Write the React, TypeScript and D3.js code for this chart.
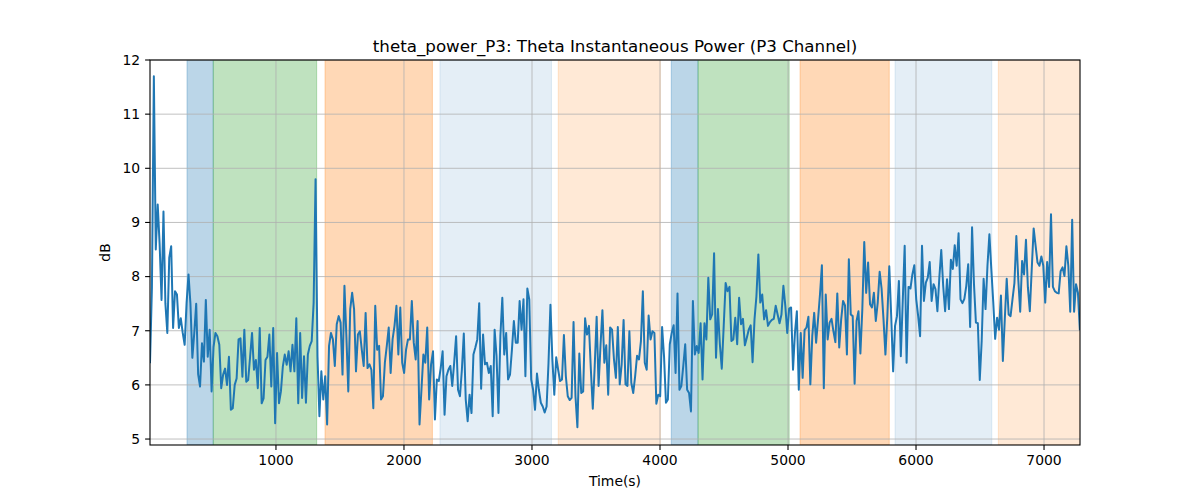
import React, { useMemo } from "react"
import * as d3 from "d3"

const TITLE = "theta_power_P3: Theta Instantaneous Power (P3 Channel)"
const X_LABEL = "Time(s)"
const Y_LABEL = "dB"

// sample times run evenly from T_FIRST to T_LAST
const T_FIRST = 16
const T_LAST = 7280
const X_DOMAIN: [number, number] = [16, 7281]
const Y_DOMAIN: [number, number] = [4.89, 12]
const X_TICKS = [1000, 2000, 3000, 4000, 5000, 6000, 7000]
const Y_TICKS = [5, 6, 7, 8, 9, 10, 11, 12]

// theta power (dB) in chunks
const powerA = [
  6.4, 7.8, 11.7, 8.5, 9.33, 8.6, 7.57, 9.2, 7.5, 6.96, 8.35, 8.56, 7.05, 7.73, 7.67, 7.05, 7.23, 6.96, 6.74, 7.51,
  8.04, 7.5, 6.5, 6.96, 7.5, 6.2, 5.97, 6.77, 6.43, 7.57, 6.52, 7.02, 5.88, 6.7, 6.96, 6.9, 6.74, 5.94, 6.19, 6.3,
  6.0, 6.52, 5.54, 5.57, 6.0, 6.12, 6.84, 6.86, 6.15, 7.02, 6.06, 6.09, 6.52, 6.96, 6.28, 6.46, 5.94, 7.05, 5.66, 5.75,
  6.46, 6.52, 6.93, 5.97, 7.05, 5.29, 6.59, 5.66, 5.88, 6.34, 6.56, 6.37, 6.62, 6.25, 6.74, 6.25, 7.23, 5.66,
]
const powerB = [
  6.96, 5.76, 6.53, 5.67, 6.56, 6.72, 6.81, 7.52, 9.8, 6.53, 5.42, 6.25, 5.73, 6.16, 5.27, 6.72, 6.96, 6.84, 6.35, 7.12,
  7.27, 7.15, 6.19, 7.83, 6.9, 5.88, 7.4, 7.7, 7.4, 6.25, 6.93, 6.99, 6.65, 6.35, 7.33, 6.31, 6.38, 6.28, 5.57, 7.46,
  6.65, 6.72, 5.73, 5.79, 6.41, 6.72, 7.06, 6.22, 6.84, 7.09, 7.46, 6.56, 7.43, 6.41, 6.22, 6.65, 6.84, 6.84, 7.55, 6.78,
  6.47, 7.18, 5.27, 5.91, 6.56, 6.41, 7.06, 5.73, 6.38, 6.62, 5.36, 6.1, 6.07, 6.31, 6.62, 5.45, 6.16, 6.28,
]
const powerC = [
  6.35, 5.98, 6.41, 6.9, 5.91, 5.79, 6.28, 6.95, 5.73, 5.33, 5.82, 5.48, 6.56, 6.69, 6.84, 7.51, 5.93, 6.93, 6.38, 6.41,
  6.22, 6.35, 5.42, 7.02, 6.53, 5.48, 6.9, 7.61, 6.56, 6.96, 6.1, 6.19, 6.65, 7.18, 6.78, 6.78, 7.55, 7.02, 7.58, 6.16,
  7.78, 7.58, 6.1, 5.91, 5.54, 6.21, 5.91, 5.67, 5.6, 5.49, 5.6, 6.41, 7.48, 6.47, 5.82, 6.51, 6.28, 6.07, 6.1, 6.92,
  6.16, 5.79, 5.72, 5.76, 7.16, 5.79, 5.22, 6.58, 5.85, 5.88, 7.23, 6.93, 7.09, 6.28, 5.56, 6.35, 7.26, 5.98,
]
const powerD = [
  6.72, 7.38, 6.41, 6.73, 5.82, 7.06, 7.02, 6.47, 6.13, 7.07, 6.01, 6.38, 7.2, 6.01, 5.98, 6.99, 6.04, 5.85, 6.16, 6.54,
  6.47, 6.81, 7.73, 6.41, 6.28, 7.28, 6.84, 6.99, 6.96, 5.65, 5.82, 5.79, 7.07, 6.53, 5.67, 5.73, 6.75, 6.96, 7.1, 6.22,
  7.69, 5.91, 5.98, 6.35, 6.75, 5.91, 5.85, 5.51, 7.55, 6.56, 6.72, 6.59, 7.14, 6.1, 7.14, 6.84, 7.98, 7.21, 7.3, 8.43,
  6.5, 7.4, 6.75, 6.3, 7.09, 7.88, 7.73, 7.81, 6.81, 6.84, 7.24, 6.75, 7.61, 7.12, 7.22, 6.73, 6.87, 7.02,
]
const powerE = [
  7.1, 6.42, 7.21, 7.64, 8.41, 7.52, 7.67, 7.21, 7.38, 7.09, 7.16, 7.2, 7.22, 7.46, 7.3, 7.14, 7.3, 7.83, 7.46, 6.96,
  7.41, 7.43, 6.28, 6.96, 7.36, 5.91, 6.96, 6.13, 7.01, 7.06, 7.26, 6.01, 6.9, 7.33, 6.78, 7.21, 7.67, 8.21, 5.94, 7.67,
  6.84, 7.15, 7.22, 6.99, 6.79, 7.69, 6.69, 7.2, 7.55, 7.47, 6.56, 8.32, 7.3, 7.27, 6.02, 7.18, 7.36, 6.58, 7.4, 8.64,
  7.7, 8.26, 7.49, 7.43, 7.7, 7.18, 7.52, 8.09, 7.78, 7.21, 6.56, 7.27, 8.19, 7.27, 6.25, 7.09, 7.27, 7.92,
]
const powerF = [
  6.53, 7.55, 8.57, 6.41, 7.81, 7.78, 8.04, 8.21, 7.58, 7.27, 6.9, 8.57, 7.55, 7.89, 7.98, 8.27, 7.55, 7.86, 7.77, 7.36,
  7.98, 8.49, 7.83, 7.36, 7.95, 7.4, 8.31, 8.14, 8.58, 8.2, 8.8, 7.58, 7.51, 7.59, 7.83, 8.23, 7.07, 8.91, 7.86, 7.15,
  7.14, 6.09, 6.81, 7.96, 7.4, 8.2, 8.78, 8.14, 7.53, 6.85, 7.24, 7.02, 7.65, 6.44, 7.21, 7.96, 7.3, 7.27, 7.58, 7.88,
  8.75, 7.95, 7.35, 8.29, 8.04, 8.68, 7.8, 7.36, 8.14, 8.89, 8.57, 8.26, 8.2, 8.37, 8.2, 7.52, 8.27, 7.81, 9.15, 7.81,
  7.73, 7.7, 7.69, 8.1, 8.17, 8.01, 8.56, 8.2, 7.35, 9.05, 7.35, 7.86, 7.7, 7.01,
]

// shaded phases
const spanStart = [305, 510, 1383, 2281, 3205, 4088, 4297, 5094, 5836, 6643]
const spanEnd = [510, 1318, 2222, 3152, 4003, 4297, 5009, 5791, 6592, 7300]
const spanKind = ["blue", "green", "orange", "paleBlue", "paleOrange", "blue", "green", "orange", "paleBlue", "paleOrange"]

const spanStyle: Record<string, { color: string; opacity: number }> = {
  blue: { color: "#1f77b4", opacity: 0.3 },
  green: { color: "#2ca02c", opacity: 0.3 },
  orange: { color: "#ff7f0e", opacity: 0.3 },
  paleBlue: { color: "#1f77b4", opacity: 0.12 },
  paleOrange: { color: "#ff7f0e", opacity: 0.17 },
}

const W = 1200
const H = 500
const margin = { top: 60, right: 120, bottom: 55, left: 150 }
const FONT = "DejaVu Sans, sans-serif"

export default function App() {
  const innerW = W - margin.left - margin.right
  const innerH = H - margin.top - margin.bottom

  const x = useMemo(() => d3.scaleLinear().domain(X_DOMAIN).range([0, innerW]), [innerW])
  const y = useMemo(() => d3.scaleLinear().domain(Y_DOMAIN).range([innerH, 0]), [innerH])

  const series = useMemo(() => {
    const values = [...powerA, ...powerB, ...powerC, ...powerD, ...powerE, ...powerF]
    const dt = (T_LAST - T_FIRST) / (values.length - 1)
    return values.map((v, i) => ({ t: T_FIRST + i * dt, v }))
  }, [])

  const linePath = d3
    .line<{ t: number; v: number }>()
    .x((d) => x(d.t))
    .y((d) => y(d.v))(series)

  return (
    <div style={{ position: "absolute", left: 0, top: 0 }}>
      <svg width={W} height={H} style={{ display: "block", background: "#fff" }} fontFamily={FONT}>
        <defs>
          <clipPath id="plot-area">
            <rect x={0} y={0} width={innerW} height={innerH} />
          </clipPath>
        </defs>
        <g transform={`translate(${margin.left},${margin.top})`}>
          <g clipPath="url(#plot-area)">
            {spanStart.map((s, i) => {
              const st = spanStyle[spanKind[i]]
              return (
                <rect
                  key={`span-${i}`}
                  x={x(s)}
                  y={0}
                  width={x(spanEnd[i]) - x(s)}
                  height={innerH}
                  fill={st.color}
                  fillOpacity={st.opacity}
                  stroke={st.color}
                  strokeOpacity={st.opacity}
                  strokeWidth={1}
                />
              )
            })}
          </g>

          {/* grid */}
          {X_TICKS.map((t) => (
            <line key={`gx-${t}`} x1={x(t)} x2={x(t)} y1={0} y2={innerH} stroke="#b0b0b0" strokeWidth={0.8} />
          ))}
          {Y_TICKS.map((t) => (
            <line key={`gy-${t}`} x1={0} x2={innerW} y1={y(t)} y2={y(t)} stroke="#b0b0b0" strokeWidth={0.8} />
          ))}

          <path
            d={linePath ?? ""}
            fill="none"
            stroke="#1f77b4"
            strokeWidth={2}
            strokeLinejoin="round"
            clipPath="url(#plot-area)"
          />

          {/* frame */}
          <rect x={0} y={0} width={innerW} height={innerH} fill="none" stroke="#000" strokeWidth={1.1} />

          {/* x axis */}
          {X_TICKS.map((t) => (
            <g key={`xt-${t}`} transform={`translate(${x(t)},${innerH})`}>
              <line y1={0} y2={4.9} stroke="#000" strokeWidth={1.1} />
              <text y={20} textAnchor="middle" fontSize={13.9} fill="#000">
                {t}
              </text>
            </g>
          ))}
          {/* y axis */}
          {Y_TICKS.map((t) => (
            <g key={`yt-${t}`} transform={`translate(0,${y(t)})`}>
              <line x1={0} x2={-4.9} stroke="#000" strokeWidth={1.1} />
              <text x={-9.8} dy="0.35em" textAnchor="end" fontSize={13.9} fill="#000">
                {t}
              </text>
            </g>
          ))}

          <text x={innerW / 2} y={innerH + 41} textAnchor="middle" fontSize={13.9} fill="#000">
            {X_LABEL}
          </text>
          <text
            transform={`translate(${-40},${innerH / 2}) rotate(-90)`}
            textAnchor="middle"
            fontSize={13.9}
            fill="#000"
          >
            {Y_LABEL}
          </text>
          <text x={innerW / 2} y={-8.5} textAnchor="middle" fontSize={16.7} fill="#000">
            {TITLE}
          </text>
        </g>
      </svg>
    </div>
  )
}
